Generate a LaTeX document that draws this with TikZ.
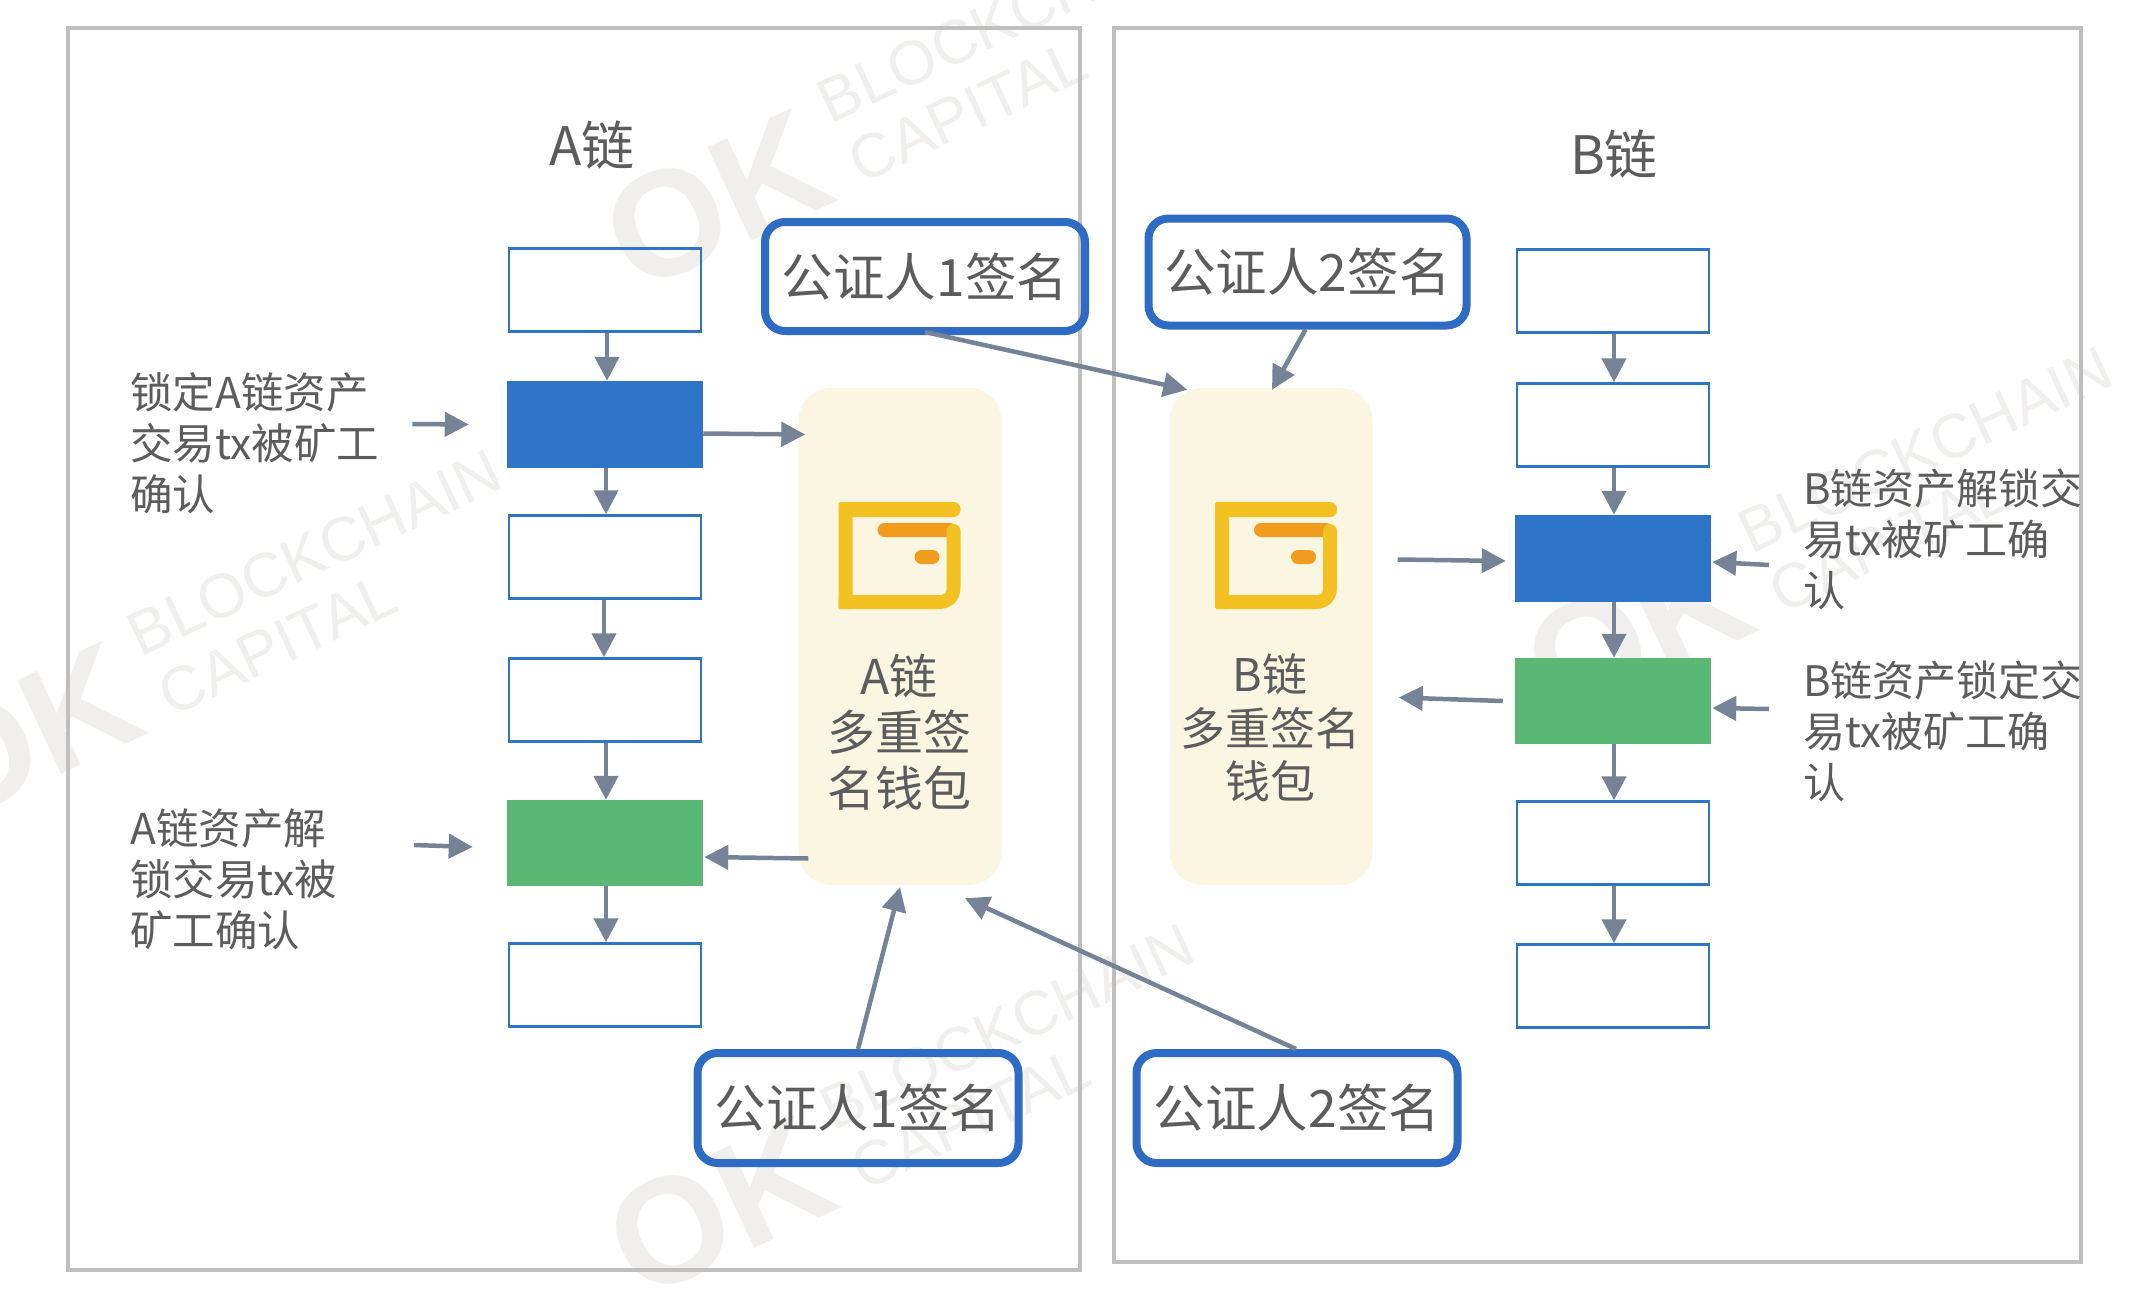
\documentclass[tikz,border=0pt]{standalone}
\usepackage{fontspec}
\setmainfont{Noto Sans CJK SC}
\newfontfamily\wmfont{Liberation Sans}
\usetikzlibrary{arrows.meta,calc}
\definecolor{framegray}{HTML}{BFBFBF}
\definecolor{chainblue}{HTML}{2E75C9}
\definecolor{signblue}{HTML}{2D6BC4}
\definecolor{chaingreen}{HTML}{5AB776}
\definecolor{panelcream}{HTML}{FBF6E1}
\definecolor{linkgray}{HTML}{768396}
\definecolor{inkgray}{HTML}{5C5C5C}
\definecolor{walletyellow}{HTML}{F3C122}
\definecolor{walletorange}{HTML}{F29C1F}
\definecolor{markgray}{HTML}{F1EEEE}
\tikzset{
  frame/.style={draw=framegray,line width=4pt,fill=none,inner sep=0pt},
  block/.style={draw=chainblue,line width=2.5pt,inner sep=0pt,minimum width=192pt,minimum height=83pt},
  bluefill/.style={block,fill=chainblue,minimum height=85pt,minimum width=194pt},
  greenfill/.style={block,draw=chaingreen,fill=chaingreen,minimum height=84pt,minimum width=194pt},
  signbox/.style={draw=signblue,line width=8pt,rounded corners=20pt,fill=none,inner sep=0pt,text=inkgray,
    font=\fontsize{51.5}{60}\selectfont},
  walletpanel/.style={fill=panelcream,rounded corners=33pt,inner sep=0pt,minimum width=203pt,minimum height=497pt},
  link/.style={draw=linkgray,line width=4.5pt,-{Triangle[length=24pt,width=24pt]}},
  caption/.style={text=inkgray,align=left,anchor=west,inner sep=0pt,font=\fontsize{42.5}{51}\selectfont},
  captionwide/.style={caption,font=\fontsize{42}{51}\selectfont},
  title/.style={text=inkgray,inner sep=0pt,font=\fontsize{53}{60}\selectfont},
  wallet/.pic={
    \fill[walletyellow,rounded corners=1.5pt] (0,0) rectangle (14,107);
    \fill[walletyellow,rounded corners=7pt] (0,0) rectangle (122,15);
    \fill[walletyellow,rounded corners=1.5pt] (0,93) rectangle (100,107);
    \fill[walletorange,rounded corners=7pt] (39,21) rectangle (118,35);
    \fill[walletorange,rounded corners=7pt] (76,48) rectangle (101,62);
    \fill[walletyellow] (108,29) arc[start angle=180,end angle=0,radius=7pt] -- (122,85)
      .. controls (122,100) and (112,107) .. (100,107) -- (90,107) -- (90,93) -- (103,93)
      .. controls (106,93) and (108,91) .. (108,88) -- cycle;
  }
}
% Pale company mark: wordmark plus two rotated lines of text
\newcommand{\pagemark}[3]{%
  \begin{scope}[shift={(#2,#3)}]
    \node[rotate=25,text=markgray,font=\wmfont\bfseries\fontsize{150}{150}\selectfont] (#1ok) at (0,0) {OK};
    \node[rotate=25,anchor=south west,inner sep=0pt,text=markgray,font=\wmfont\fontsize{62}{66}\selectfont] (#1line) at (114,-75) {BLOCKCHAIN};
    \node[rotate=25,anchor=south west,inner sep=0pt,text=markgray,font=\wmfont\fontsize{62}{66}\selectfont] (#1cap) at (145,-15) {CAPITAL};
  \end{scope}}
\begin{document}
\begin{tikzpicture}[x=1pt,y=-1pt]
\useasboundingbox (0,0) rectangle (2150,1306);
\fill[white] (0,0) rectangle (2150,1306);

\begin{scope}
  \clip (0,0) rectangle (2150,1306);
  \pagemark{ma}{717}{200}
  \pagemark{mb}{27}{733}
  \pagemark{mc}{1638}{630}
  \pagemark{md}{720}{1207}
\end{scope}

% Chain frames
\node[frame,minimum width=1012pt,minimum height=1242pt] (frameA) at (573.5,649) {};
\node[frame,minimum width=967pt,minimum height=1234pt] (frameB) at (1597,645) {};

% Multi-signature wallet panels
\node[walletpanel] (panelA) at (900,636.5) {};
\node[walletpanel] (panelB) at (1271,636.5) {};
\pic at (838.5,502) {wallet};
\pic at (1215,502) {wallet};
\node[title,align=center,font=\fontsize{48}{56}\selectfont] (labelA) at (899,732) {A链\\多重签\\名钱包};
\node[title,align=center,font=\fontsize{45}{53.5}\selectfont] (labelB) at (1270,728) {B链\\多重签名\\钱包};

% Chain titles
\node[title] (titleA) at (592,145) {A链};
\node[title] (titleB) at (1614,154) {B链};

% Blocks of chain A
\node[block] (a1) at (605,290) {};
\node[bluefill] (a2) at (605,424.5) {};
\node[block] (a3) at (605,557) {};
\node[block] (a4) at (605,700) {};
\node[greenfill] (a5) at (605,843) {};
\node[block] (a6) at (605,985) {};

% Blocks of chain B
\node[block] (b1) at (1613,291) {};
\node[block] (b2) at (1613,425) {};
\node[bluefill] (b3) at (1613,558.5) {};
\node[greenfill] (b4) at (1613,701) {};
\node[block] (b5) at (1613,843) {};
\node[block] (b6) at (1613,986) {};

% Signature boxes
\node[signbox,minimum width=320pt,minimum height=109pt] (signA1) at (925,276.5) {\raisebox{4pt}{公证人1签名}};
\node[signbox,minimum width=318pt,minimum height=107pt] (signA2) at (1307.5,272) {\raisebox{1pt}{公证人2签名}};
\node[signbox,minimum width=321pt,minimum height=110pt] (signB1) at (858,1108) {公证人1签名};
\node[signbox,minimum width=321pt,minimum height=110pt] (signB2) at (1297,1108) {公证人2签名};

% Captions
\node[caption] (capLockA) at (130,443) {锁定A链资产\\交易tx被矿工\\确认};
\node[caption] (capFreeA) at (130,879) {A链资产解\\锁交易tx被\\矿工确认};
\node[captionwide] (capFreeB) at (1803,539) {B链资产解锁交\\易tx被矿工确\\认};
\node[captionwide] (capLockB) at (1803,731) {B链资产锁定交\\易tx被矿工确\\认};

% Links along chain A
\draw[link] (a1.south -| 607,0) -- (a2.north -| 607,0);
\draw[link] (a2.south -| 606,0) -- (a3.north -| 606,0);
\draw[link] (a3.south -| 604,0) -- (a4.north -| 604,0);
\draw[link] (a4.south -| 606,0) -- (a5.north -| 606,0);
\draw[link] (a5.south -| 606,0) -- (a6.north -| 606,0);

% Links along chain B
\draw[link] (b1.south -| 1614,0) -- (b2.north -| 1614,0);
\draw[link] (b2.south -| 1614,0) -- (b3.north -| 1614,0);
\draw[link] (b3.south -| 1614,0) -- (b4.north -| 1614,0);
\draw[link] (b4.south -| 1614,0) -- (b5.north -| 1614,0);
\draw[link] (b5.south -| 1614,0) -- (b6.north -| 1614,0);

% Caption arrows
\draw[link] ([xshift=33pt,yshift=19pt]capLockA.east) -- ([xshift=-38pt]a2.west);
\draw[link] ([xshift=77pt,yshift=34pt]capFreeA.east) -- ([xshift=-34pt,yshift=-4pt]a5.west);
\draw[link] ([xshift=-34pt,yshift=-26pt]capFreeB.west) -- ([xshift=1pt,yshift=-3.5pt]b3.east);
\draw[link] ([xshift=-34pt,yshift=22pt]capLockB.west) -- ([xshift=1pt,yshift=-7pt]b4.east);

% Links between blocks, wallets and signatures
\draw[link] ([yshift=-9pt]a2.east) -- ([xshift=7pt,yshift=202pt]panelA.west);
\draw[link] ([xshift=10pt,yshift=-222pt]panelA.west) -- ([xshift=1pt,yshift=-14pt]a5.east);
\draw[link] ([xshift=25pt,yshift=77pt]panelB.east) -- ([xshift=-9pt,yshift=-2.5pt]b3.west);
\draw[link] ([xshift=-12pt]b4.west) -- ([xshift=26pt,yshift=-61pt]panelB.east);
\draw[link] ([yshift=3pt]signA1.south) -- ([xshift=18pt,yshift=-2pt]panelB.north west);
\draw[link] ([xshift=-2pt]signA2.south) -- ([xshift=1pt,yshift=-2pt]panelB.north);
\draw[link] (signB1.north) -- ([xshift=0pt,yshift=-2pt]panelA.south);
\draw[link] ([xshift=-1pt]signB2.north) -- ([xshift=65pt,yshift=-13pt]panelA.south);
\end{tikzpicture}
\end{document}
